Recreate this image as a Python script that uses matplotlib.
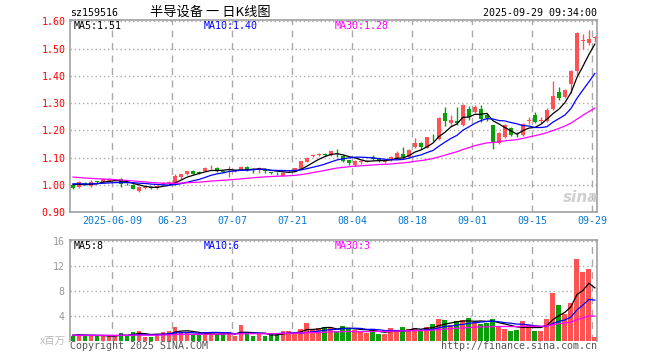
import matplotlib
matplotlib.use('Agg')
import matplotlib.pyplot as plt
import numpy as np
import pandas as pd
import math

# ---------------- data ----------------
holidays = ['2025-06-02']
dates = [d.strftime('%Y-%m-%d') for d in pd.bdate_range('2025-05-28', '2025-09-29')
         if d.strftime('%Y-%m-%d') not in holidays]

opens = [1.000, 0.991, 1.006, 0.994, 1.011, 1.010, 1.013, 1.015, 1.021, 1.003,
         0.999, 0.977, 0.988, 0.993, 0.987, 1.004, 1.006, 1.006, 1.027, 1.039,
         1.051, 1.045, 1.051, 1.064, 1.063, 1.048, 1.053, 1.050, 1.055, 1.067,
         1.058, 1.055, 1.058, 1.045, 1.044, 1.034, 1.049, 1.053, 1.059, 1.085,
         1.104, 1.109, 1.113, 1.109, 1.118, 1.106, 1.090, 1.072, 1.085, 1.084,
         1.102, 1.100, 1.083, 1.090, 1.099, 1.112, 1.102, 1.137, 1.155, 1.136,
         1.172, 1.169, 1.263, 1.227, 1.234, 1.218, 1.279, 1.267, 1.279, 1.255,
         1.218, 1.153, 1.177, 1.209, 1.183, 1.181, 1.234, 1.258, 1.235, 1.233,
         1.277, 1.340, 1.322, 1.369, 1.418, 1.528, 1.520, 1.538]
closes = [0.987, 1.010, 1.000, 1.010, 1.009, 1.020, 1.020, 1.018, 1.002, 1.001,
          0.985, 0.993, 0.990, 0.987, 0.996, 1.006, 1.009, 1.034, 1.039, 1.051,
          1.040, 1.043, 1.063, 1.066, 1.049, 1.046, 1.056, 1.052, 1.066, 1.055,
          1.056, 1.061, 1.049, 1.043, 1.042, 1.043, 1.051, 1.060, 1.087, 1.099,
          1.110, 1.112, 1.111, 1.123, 1.115, 1.088, 1.080, 1.088, 1.087, 1.088,
          1.094, 1.087, 1.087, 1.102, 1.115, 1.102, 1.127, 1.155, 1.139, 1.174,
          1.170, 1.246, 1.234, 1.239, 1.228, 1.292, 1.249, 1.285, 1.240, 1.245,
          1.157, 1.190, 1.218, 1.181, 1.181, 1.224, 1.237, 1.230, 1.238, 1.275,
          1.325, 1.320, 1.349, 1.418, 1.557, 1.531, 1.536, 1.541]
highs = [1.002, 1.012, 1.010, 1.018, 1.013, 1.022, 1.024, 1.022, 1.024, 1.005,
         1.001, 0.995, 0.993, 0.995, 0.998, 1.010, 1.013, 1.038, 1.040, 1.052,
         1.053, 1.050, 1.065, 1.073, 1.065, 1.050, 1.068, 1.055, 1.068, 1.070,
         1.060, 1.064, 1.060, 1.048, 1.047, 1.046, 1.056, 1.062, 1.089, 1.101,
         1.113, 1.118, 1.117, 1.125, 1.130, 1.108, 1.092, 1.090, 1.092, 1.090,
         1.111, 1.100, 1.090, 1.104, 1.123, 1.138, 1.133, 1.170, 1.157, 1.176,
         1.188, 1.250, 1.287, 1.255, 1.284, 1.295, 1.290, 1.292, 1.292, 1.265,
         1.220, 1.193, 1.222, 1.213, 1.193, 1.228, 1.248, 1.267, 1.248, 1.282,
         1.380, 1.358, 1.352, 1.420, 1.560, 1.555, 1.570, 1.548]
lows = [0.983, 0.989, 0.998, 0.992, 1.005, 1.008, 1.012, 1.012, 0.990, 0.998,
        0.983, 0.975, 0.985, 0.985, 0.985, 1.000, 1.004, 1.003, 1.022, 1.035,
        1.038, 1.040, 1.049, 1.058, 1.047, 1.044, 1.030, 1.048, 1.053, 1.052,
        1.042, 1.043, 1.045, 1.038, 1.036, 1.032, 1.046, 1.050, 1.057, 1.083,
        1.102, 1.105, 1.106, 1.107, 1.102, 1.085, 1.074, 1.070, 1.075, 1.082,
        1.090, 1.084, 1.080, 1.088, 1.097, 1.100, 1.100, 1.135, 1.130, 1.134,
        1.160, 1.166, 1.215, 1.215, 1.220, 1.215, 1.238, 1.262, 1.230, 1.235,
        1.132, 1.150, 1.172, 1.178, 1.176, 1.178, 1.224, 1.226, 1.226, 1.230,
        1.275, 1.310, 1.318, 1.337, 1.402, 1.500, 1.515, 1.525]
volumes = [0.80, 1.17, 0.80, 0.80, 0.80, 0.80, 0.80, 0.80, 1.33, 0.80,
           1.50, 1.60, 0.64, 0.64, 1.07, 1.44, 1.65, 2.24, 1.50, 1.33,
           0.90, 0.90, 1.44, 1.17, 1.07, 1.07, 1.44, 0.80, 2.56, 1.07,
           0.80, 1.07, 0.80, 1.07, 1.07, 1.60, 1.60, 1.17, 1.87, 2.88,
           1.70, 2.00, 2.24, 2.00, 1.60, 2.40, 2.00, 1.70, 1.50, 1.33,
           1.92, 1.17, 1.07, 2.08, 1.50, 2.24, 1.92, 2.13, 1.60, 2.24,
           2.72, 3.52, 3.36, 2.50, 3.20, 3.30, 3.68, 3.04, 2.72, 2.93,
           3.52, 2.40, 1.97, 1.60, 1.76, 3.15, 2.56, 1.65, 1.65, 3.47,
           7.68, 5.70, 4.37, 6.08, 13.10, 11.00, 11.50, 0.64]
# sessions before the window (estimated from where the MA lines start)
pre_closes = [1.060, 1.055, 1.050, 1.050, 1.045, 1.050, 1.055, 1.050, 1.045, 1.040,
              1.045, 1.050, 1.045, 1.040, 1.035, 1.030, 1.025, 1.020, 1.015, 1.010,
              1.005, 1.010, 1.005, 1.000, 1.005, 1.010, 1.005, 1.000, 1.005]
pre_volumes = [0.90, 0.85, 0.95, 0.90, 0.80, 0.90, 1.00, 0.85, 0.90, 0.95,
               0.90, 0.80, 0.85, 0.90, 1.00, 0.95, 0.85, 0.90, 0.80, 0.90,
               1.00, 0.95, 0.90, 0.85, 1.00, 0.90, 0.95, 1.00, 0.90]

tick_dates = ['2025-06-09', '2025-06-23', '2025-07-07', '2025-07-21', '2025-08-04',
              '2025-08-18', '2025-09-01', '2025-09-15', '2025-09-29']
tick_labels = ['2025-06-09', '06-23', '07-07', '07-21', '08-04', '08-18', '09-01', '09-15', '09-29']
price_ticks = [0.90, 1.00, 1.10, 1.20, 1.30, 1.40, 1.50, 1.60]
vol_ticks = [4, 8, 12, 16]

# ---------------- derived ----------------
n = len(closes)
x = np.arange(n)
npre = len(pre_closes)
cs = pd.Series(pre_closes + closes)
vs = pd.Series(pre_volumes + volumes)
ma = {k: cs.rolling(k).mean().values[npre:] for k in (5, 10, 30)}
vma = {k: vs.rolling(k).mean().values[npre:] for k in (5, 10, 30)}

def trunc2(v):
    return f'{math.floor(v * 100 + 1e-9) / 100:.2f}'

RED = '#ff5252'
GREEN = '#0a9e0a'
up = [c >= o for o, c in zip(opens, closes)]
cols = [RED if u else GREEN for u in up]

W, H = 660, 360
fig = plt.figure(figsize=(W / 100, H / 100), dpi=100)
MONO = 'DejaVu Sans Mono'
FS = 7.2

def fx(px):
    return px / W

def fy(py):
    return 1 - py / H

ax = fig.add_axes([fx(70), fy(212), fx(597) - fx(70), fy(20) - fy(212)])
av = fig.add_axes([fx(70), fy(341), fx(597) - fx(70), fy(240) - fy(341)])

xl = (-0.5, 87.35)
tick_pos = [dates.index(d) - 0.45 for d in tick_dates]

for a in (ax, av):
    a.set_xlim(*xl)
    a.set_axisbelow(True)
    for s in a.spines.values():
        s.set_color('#999999')
        s.set_linewidth(1.1)
    a.tick_params(length=0)
    a.set_xticks(tick_pos)
    a.grid(axis='x', color='#aaaaaa', linestyle=(0, (5, 4)), linewidth=1.0)
    a.grid(axis='y', color='#aaaaaa', linestyle=(0, (1, 2)), linewidth=1.0)
    a.set_facecolor('white')

# candles
ax.vlines(x, lows, highs, colors=cols, linewidth=1.0, zorder=2)
body_lo = [min(o, c) for o, c in zip(opens, closes)]
body_h = [max(abs(c - o), 0.003) for o, c in zip(opens, closes)]
ax.bar(x, body_h, bottom=body_lo, width=0.78, color=cols, linewidth=0, zorder=3)
ax.plot(x, ma[5], color='black', lw=0.9, zorder=4)
ax.plot(x, ma[10], color='#0000ff', lw=0.9, zorder=4)
ax.plot(x, ma[30], color='#ff00ff', lw=0.9, zorder=4)
ax.set_ylim(0.90, 1.605)
ax.set_yticks(price_ticks)
ax.set_yticklabels([f'{v:.2f}' for v in price_ticks], color='#ff0000',
                   fontsize=FS, family=MONO)
ax.tick_params(axis='y', pad=3)
ax.set_xticklabels(tick_labels, color='#0a78d2', fontsize=FS, family=MONO)
ax.tick_params(axis='x', pad=3)

# volume
av.bar(x, volumes, width=0.82, color=cols, linewidth=0, zorder=2)
av.plot(x, vma[5], color='black', lw=0.9, zorder=4)
av.plot(x, vma[10], color='#0000ff', lw=0.9, zorder=4)
av.plot(x, vma[30], color='#ff00ff', lw=0.9, zorder=4)
av.set_ylim(0, 16.1)
av.set_yticks(vol_ticks)
av.set_yticklabels([str(v) for v in vol_ticks], color='#999999', fontsize=FS, family=MONO)
av.tick_params(axis='y', pad=4)
av.set_xticklabels([])
av.spines['bottom'].set_visible(False)

# texts
fig.text(fx(70), fy(13), 'sz159516', fontsize=FS, family=MONO, va='center', ha='left')
fig.text(fx(150), fy(12), '半导设备 一 日K线图', fontsize=9.5,
         family=['Noto Sans CJK SC', 'DejaVu Sans'], va='center', ha='left')
fig.text(fx(597), fy(13), '2025-09-29 09:34:00', fontsize=FS, family=MONO,
         va='center', ha='right')

fig.text(fx(74), fy(26), f'MA5:{trunc2(ma[5][-1])}', fontsize=FS, family=MONO, va='center')
fig.text(fx(204), fy(26), f'MA10:{trunc2(ma[10][-1])}', fontsize=FS, family=MONO,
         va='center', color='#0000ff')
fig.text(fx(335), fy(26), f'MA30:{trunc2(ma[30][-1])}', fontsize=FS, family=MONO,
         va='center', color='#ff00ff')

fig.text(fx(74), fy(246), f'MA5:{int(vma[5][-1])}', fontsize=FS, family=MONO, va='center')
fig.text(fx(204), fy(246), f'MA10:{int(vma[10][-1])}', fontsize=FS, family=MONO,
         va='center', color='#0000ff')
fig.text(fx(335), fy(246), f'MA30:{int(vma[30][-1])}', fontsize=FS, family=MONO,
         va='center', color='#ff00ff')

fig.text(fx(66), fy(341), 'x百万', fontsize=7.5, family=['Noto Sans CJK SC', 'DejaVu Sans'],
         color='#bbbbbb', va='center', ha='right')
fig.text(fx(70), fy(346), 'Copyright 2025 SINA.COM', fontsize=FS, family=MONO,
         color='#555555', va='center', ha='left')
fig.text(fx(597), fy(346), 'http://finance.sina.com.cn', fontsize=FS, family=MONO,
         color='#555555', va='center', ha='right')

# watermark
fig.text(fx(581), fy(197), 'sina', fontsize=11, fontweight='bold', style='italic',
         color='#d0d0d0', va='center', ha='center', family='DejaVu Sans')

fig.savefig('out.png', dpi=100)
